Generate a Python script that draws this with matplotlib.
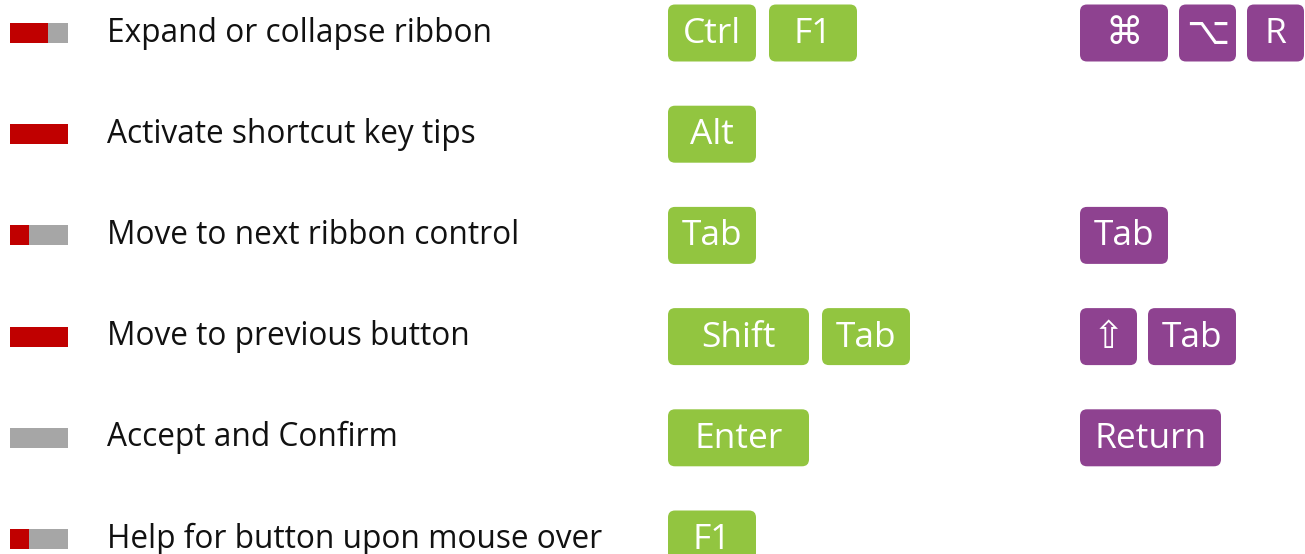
import matplotlib.pyplot as plt
from matplotlib.patches import FancyBboxPatch

# rows of the shortcut sheet
actions = [
    "Expand or collapse ribbon",
    "Activate shortcut key tips",
    "Move to next ribbon control",
    "Move to previous button",
    "Accept and Confirm",
    "Help for button upon mouse over",
]
# share of the little indicator bar that is red (rest is gray)
red_share = [0.65, 1.0, 0.33, 1.0, 0.0, 0.33]
win_keys = [["Ctrl", "F1"], ["Alt"], ["Tab"], ["Shift", "Tab"], ["Enter"], ["F1"]]
mac_keys = [["\u2318", "\u2325", "R"], [], ["Tab"], ["\u21e7", "Tab"], ["Return"], []]

RED = "#C00000"
GRAY = "#A6A6A6"
GREEN = "#92C540"
PURPLE = "#8E4290"

# key widths in px
key_w = {"Shift": 141, "Enter": 141, "Return": 141, "\u2325": 57, "R": 57, "\u21e7": 57}
default_w = 88
key_h = 57
symbols = ("\u2318", "\u2325", "\u21e7")

fig = plt.figure(figsize=(13.05, 5.54), dpi=100)
ax = fig.add_axes([0, 0, 1, 1])
ax.set_xlim(0, 1305)
ax.set_ylim(554, 0)
ax.axis("off")

row_y = [33 + 101.2 * i for i in range(len(actions))]
bar_len = 58


def draw_keys(keys, x0, yc, color, gap):
    x = x0
    for k in keys:
        w = key_w.get(k, default_w)
        box = FancyBboxPatch((x, yc - key_h / 2), w, key_h,
                             boxstyle="round,pad=0,rounding_size=7",
                             fc=color, ec="none")
        ax.add_patch(box)
        if k in symbols:
            ax.text(x + w / 2, yc + 1, k, color="white", fontsize=27,
                    ha="center", va="center", family=["DejaVu Sans"])
        else:
            ax.text(x + w / 2, yc + 1, k, color="white", fontsize=25.5,
                    ha="center", va="center", family=["Open Sans", "DejaVu Sans"])
        x += w + gap


for i, label in enumerate(actions):
    y = row_y[i]
    red = red_share[i] * bar_len
    ax.barh(y, red, left=10, height=20, color=RED)
    ax.barh(y, bar_len - red, left=10 + red, height=20, color=GRAY)
    ax.text(107, y, label, fontsize=22.8, ha="left", va="center",
            family=["Open Sans", "DejaVu Sans"], color="#111111")
    draw_keys(win_keys[i], 668, y, GREEN, 13)
    draw_keys(mac_keys[i], 1080, y, PURPLE, 11)

fig.savefig("out.png", dpi=100)
